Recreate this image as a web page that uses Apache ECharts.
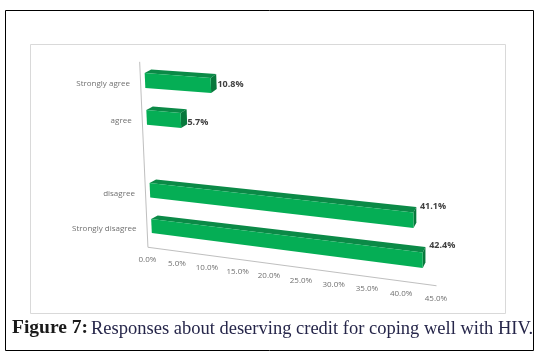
<!DOCTYPE html>
<html><head><meta charset="utf-8">
<style>html,body{margin:0;padding:0;background:#fff}#c{width:539px;height:356px}</style>
<script src="https://cdn.jsdelivr.net/npm/echarts@6/dist/echarts.min.js"></script>
</head><body><div id="c"></div>
<script>
const categories = ['Strongly disagree', 'disagree', '', 'agree', 'Strongly agree'];
const values = [42.4, 41.1, null, 5.7, 10.8];
const xTicks = [0, 5, 10, 15, 20, 25, 30, 35, 40, 45];
const captionBold = 'Figure 7:';
const captionText = 'Responses about deserving credit for coping well with HIV.';

const G = {left: 145, top: 80, width: 290, height: 146};
const quad = [[145, 80.5], [441, 103], [441, 262.5], [151.5, 226]];
function solve(q) {
  const [[x0,y0],[x1,y1],[x2,y2],[x3,y3]] = q;
  const dx1=x1-x2, dx2=x3-x2, sx=x0-x1+x2-x3, dy1=y1-y2, dy2=y3-y2, sy=y0-y1+y2-y3;
  const den=dx1*dy2-dx2*dy1, g=(sx*dy2-dx2*sy)/den, h=(dx1*sy-sx*dy1)/den;
  return {a:x1-x0+g*x1,b:x3-x0+h*x3,c:x0,d:y1-y0+g*y1,e:y3-y0+h*y3,f:y0,g,h};
}
const H = solve(quad);
function persp(p) {
  const u=(p[0]-G.left)/G.width, v=(p[1]-G.top)/G.height, w=H.g*u+H.h*v+1;
  return [(H.a*u+H.b*v+H.c)/w, (H.d*u+H.e*v+H.f)/w];
}
const FLOOR = -0.6, CEIL = 4.5, HALF = 0.2, MAXV = 45;
const FRONT = '#05AE55', TOP = '#0B8A47', SIDE = '#08783C';

function renderBar(params, api) {
  const val = api.value(0), c = api.value(1);
  const pt = (x, y) => persp(api.coord([x, y]));
  const u = val / MAXV;
  const dAt = t => [6.5 - 4 * t, -(3.5 + 2 * t)];
  const d0 = dAt(0), d1 = dAt(u);
  const add = (p, d) => [p[0] + d[0], p[1] + d[1]];
  const tl = pt(0, c + HALF), bl = pt(0, c - HALF), tr = pt(val, c + HALF), br = pt(val, c - HALF);
  return {type: 'group', children: [
    {type: 'polygon', shape: {points: [tl, tr, add(tr, d1), add(tl, d0)]}, style: {fill: TOP}},
    {type: 'polygon', shape: {points: [tr, br, add(br, d1), add(tr, d1)]}, style: {fill: SIDE}},
    {type: 'polygon', shape: {points: [tl, tr, br, bl]}, style: {fill: FRONT}}
  ]};
}
function renderValueLabel(params, api) {
  const val = api.value(0), c = api.value(1), p = persp(api.coord([val, c])), u = val / MAXV;
  return {type: 'text', style: {text: val.toFixed(1) + '%', x: p[0] + 6.5, y: p[1] + 4 - 20 * u,
    fill: '#404040', font: 'bold 9px "Open Sans", sans-serif', align: 'left', verticalAlign: 'middle'}};
}
function renderCat(params, api) {
  const c = api.value(0), p = persp(api.coord([0, c]));
  return {type: 'text', style: {text: categories[c], x: p[0] - 15, y: p[1] + 3,
    fill: '#707070', font: '8px "Open Sans", sans-serif', align: 'right', verticalAlign: 'middle'}};
}
function renderTick(params, api) {
  const v = api.value(0), p = persp(api.coord([v, FLOOR]));
  return {type: 'text', style: {text: v.toFixed(1) + '%', x: p[0] - 5, y: p[1] + 12.5,
    fill: '#707070', font: '8px "Open Sans", sans-serif', align: 'center', verticalAlign: 'middle'}};
}
function renderAxes(params, api) {
  const pt = (x, y) => persp(api.coord([x, y]));
  const a = pt(0, FLOOR), b = pt(MAXV, FLOOR), t = pt(0, CEIL);
  const s = (p, q) => ({type: 'line', shape: {x1: p[0] - 4.5, y1: p[1], x2: q[0] - 4.5, y2: q[1]},
    style: {stroke: '#bfbfbf', lineWidth: 1}});
  return {type: 'group', children: [s(a, b), s(a, t)]};
}

const barData = values.map((v, i) => [v, i]).filter(d => d[0] !== null);
const chart = echarts.init(document.getElementById('c'), null, {renderer: 'canvas'});
chart.setOption({
  animation: false,
  backgroundColor: '#fff',
  grid: G,
  xAxis: {type: 'value', min: 0, max: MAXV, interval: 5, show: false},
  yAxis: {type: 'value', min: 0, max: 4, interval: 1, show: false},
  graphic: [
    {type: 'rect', silent: true, z: -2, shape: {x: 5.5, y: 10.5, width: 528, height: 340}, style: {fill: '#fff', stroke: '#000', lineWidth: 1}},
    {type: 'rect', silent: true, z: -1, shape: {x: 30.5, y: 44.5, width: 475, height: 269}, style: {fill: '#fff', stroke: '#d9d9d9', lineWidth: 1}},
    {type: 'text', left: 12, top: 318, style: {text: captionBold, fill: '#1a1a1a', font: 'bold 19.5px "Liberation Serif", serif'}},
    {type: 'text', left: 91, top: 320, style: {text: captionText, fill: '#26264a', font: '18.5px "Liberation Serif", serif'}}
  ],
  series: [
    {type: 'custom', name: 'axes', data: [[0]], encode: {x: 0}, renderItem: renderAxes, silent: true, clip: false, z: 1},
    {type: 'custom', name: 'ticks', data: xTicks.map(v => [v]), encode: {x: 0}, renderItem: renderTick, silent: true, clip: false, z: 2},
    {type: 'custom', name: 'categories', data: categories.map((c, i) => [i]).filter(d => categories[d[0]]), encode: {y: 0}, renderItem: renderCat, silent: true, clip: false, z: 2},
    {type: 'custom', name: 'Responses', data: barData, encode: {x: 0, y: 1}, renderItem: renderBar, silent: true, clip: false, z: 3},
    {type: 'custom', name: 'labels', data: barData, encode: {x: 0, y: 1}, renderItem: renderValueLabel, silent: true, clip: false, z: 4}
  ]
});
</script></body></html>
